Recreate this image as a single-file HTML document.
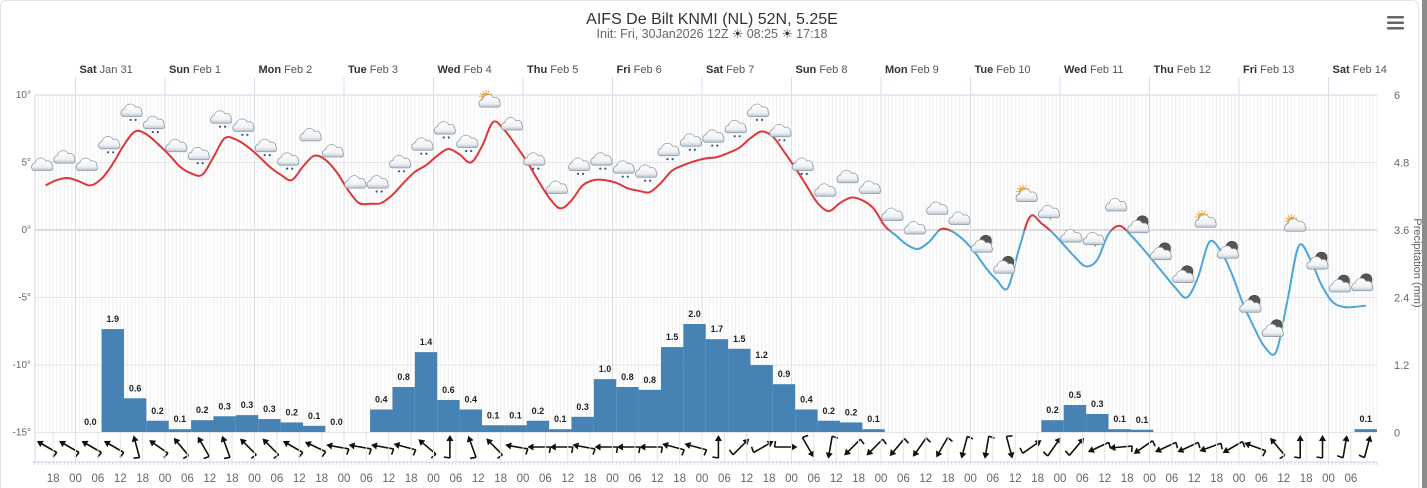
<!DOCTYPE html>
<html><head><meta charset="utf-8"><style>
html,body{margin:0;padding:0;background:#fff;}
svg{display:block;font-family:"Liberation Sans",sans-serif;}
</style></head><body>
<svg id="chart" width="1427" height="488" viewBox="0 0 1427 488" xmlns="http://www.w3.org/2000/svg">
<rect x="0.5" y="0.5" width="1418" height="492" rx="6" fill="#fff" stroke="#e3e3e3"/>
<rect x="1422" y="0" width="5" height="488" fill="#8c8c8c"/>
<text x="712" y="24" text-anchor="middle" font-size="16" fill="#333">AIFS De Bilt KNMI (NL) 52N, 5.25E</text>
<text x="712" y="38" text-anchor="middle" font-size="12.5" fill="#666">Init: Fri, 30Jan2026 12Z <tspan fill="#333">☀</tspan> 08:25 <tspan fill="#333">☀</tspan> 17:18</text>
<g fill="#666">
<rect x="1387" y="16" width="17" height="2.5" rx="1"/><rect x="1387" y="21.5" width="17" height="2.5" rx="1"/><rect x="1387" y="27" width="17" height="2.5" rx="1"/>
</g>
<g id="grid"></g>
<g id="days"></g>
<g id="yaxes"></g>
<g id="bars"></g>
<defs>
<clipPath id="above"><rect x="0" y="0" width="1427" height="230.5"/></clipPath>
<clipPath id="below"><rect x="0" y="230.5" width="1427" height="300"/></clipPath>
<linearGradient id="cg" x1="0" y1="0" x2="0" y2="1"><stop offset="0" stop-color="#ffffff"/><stop offset="0.7" stop-color="#eef1f4"/><stop offset="1" stop-color="#b9c2cc"/></linearGradient>
</defs>
<g id="temp"></g>
<g id="icons"></g>
<g id="wind"></g>
<g id="xaxis"></g>
<text transform="translate(1414,263) rotate(90)" text-anchor="middle" font-size="11" fill="#666">Precipitation (mm)</text>
</svg>
<script>
const days = [["Sat","Jan 31"],["Sun","Feb 1"],["Mon","Feb 2"],["Tue","Feb 3"],["Wed","Feb 4"],["Thu","Feb 5"],["Fri","Feb 6"],["Sat","Feb 7"],["Sun","Feb 8"],["Mon","Feb 9"],["Tue","Feb 10"],["Wed","Feb 11"],["Thu","Feb 12"],["Fri","Feb 13"],["Sat","Feb 14"]];
const tempTicks = [10,5,0,-5,-10,-15];
const precipTicks = ["6","4.8","3.6","2.4","1.2","0"];
const hourLabels = ["18","00","06","12"];
const temps = [3.3,3.7,3.85,3.6,3.3,3.8,4.9,6.3,7.3,7.1,6.4,5.6,4.7,4.2,4.1,5.4,6.8,6.7,6.2,5.5,4.7,4.1,3.7,4.7,5.5,5.2,4.3,3.0,2.0,1.95,2.0,
2.6,3.5,4.3,4.8,5.5,6.0,5.6,5.0,6.2,8.0,7.4,6.3,5.1,3.7,2.4,1.6,2.2,3.3,3.7,3.7,3.5,3.1,2.9,2.8,3.5,4.4,4.8,5.1,5.3,5.4,5.7,6.1,6.8,7.3,6.9,5.8,4.6,3.3,2.0,1.4,2.0,2.4,
2.2,1.6,0.3,-0.4,-1.1,-1.4,-0.85,0.05,-0.1,-0.7,-1.6,-2.75,-3.7,-4.3,-1.4,1.0,0.5,-0.2,-1.1,-2.0,-2.7,-2.2,-0.3,0.3,-0.4,-1.3,-2.3,-3.3,-4.3,-5.0,-3.5,-0.9,-1.5,-3.2,-5.4,-7.2,-8.7,-9.0,-5.2,-1.2,-2.1,-4.0,-5.3,-5.7,-5.7,-5.6];
const precip = [0,1.83,0.6,0.2,0.05,0.21,0.28,0.3,0.23,0.17,0.11,0,0,0.4,0.8,1.42,0.57,0.4,0.12,0.12,0.2,0.05,0.27,0.94,0.8,0.75,1.51,1.92,1.65,1.48,1.19,0.85,0.4,0.2,0.17,0.05,0,0,0,0,0,0,0,0.21,0.48,0.32,0.05,0.04,0,0,0,0,0,0,0,0,0,0.05];
const precipLabels = ["0.0","1.9","0.6","0.2","0.1","0.2","0.3","0.3","0.3","0.2","0.1","0.0",null,"0.4","0.8","1.4","0.6","0.4","0.1","0.1","0.2","0.1","0.3","1.0","0.8","0.8","1.5","2.0","1.7","1.5","1.2","0.9","0.4","0.2","0.2","0.1",null,null,null,null,null,null,null,"0.2","0.5","0.3","0.1","0.1",null,null,null,null,null,null,null,null,null,"0.1"];
const iconTypes = ["c","c","c","r","r","r","c","r","r","r","r","r","c","c","c","r","r","r","r","r","s","c","r","c","r","r","r","r","r","r","r","r","r","r","r","c","c","c","c","c","c","c","m","m","s","n","c","n","c","m","m","m","s","m","m","m","s","m","m","m"];
const windHeading = [300,300,300,300,345,305,320,330,340,315,315,300,295,280,280,
280,285,310,0,340,315,280,270,270,280,270,270,270,285,285,0,45,60,90,150,190,225,225,
220,215,210,195,190,165,55,35,40,245,265,235,245,245,250,240,290,320,0,0,10,15];

const NS="http://www.w3.org/2000/svg";
function mk(tag, attrs, parent){const e=document.createElementNS(NS,tag);for(const k in attrs)e.setAttribute(k,attrs[k]);if(parent)parent.appendChild(e);return e;}
const X0=75.5, PXH=89.5/24, PL=35, PR=1377, PT=95, PB=432;
const xS=t=>X0+t*PXH;
const yT=v=>230-v*13.5;
const yP=v=>PB-v*56.25;

const grid=document.getElementById('grid');
for(let t=-11;xS(t)<=PR;t++){const x=xS(t);if(x<PL)continue;
 const l=mk('line',{x1:x,x2:x,y1:PT,y2:PB,stroke:'#efefef','stroke-width':1},grid);
 }
tempTicks.forEach(v=>{const y=yT(v);
 const l=mk('line',{x1:PL,x2:PR,y1:y,y2:y,stroke:v===0?'#bdbdbd':'#e6e6e6','stroke-width':1},grid);
 });
mk('line',{x1:PL,x2:PR,y1:PT,y2:PT,stroke:'#ccd6eb'},grid);
mk('line',{x1:PL,x2:PL,y1:PT,y2:462,stroke:'#ccd6eb'},grid);

const dg=document.getElementById('days');
days.forEach((d,i)=>{const x=xS(24*i);
 const l=mk('line',{x1:x,x2:x,y1:77,y2:PB,stroke:'#d8dee8'},dg);
 
 const tx=mk('text',{x:x+4,y:73,'font-size':11,fill:'#555'},dg);
 
 const b=mk('tspan',{'font-weight':'bold',fill:'#333'},tx);b.textContent=d[0];
 const s=mk('tspan',{},tx);s.textContent=' '+d[1];});

const ya=document.getElementById('yaxes');
tempTicks.forEach((v,i)=>{
 const a=mk('text',{x:31,y:yT(v)+3,'text-anchor':'end','font-size':10,fill:'#666'},ya);
 a.textContent=v+'°';
 const b=mk('text',{x:1394,y:yT(v)+4,'font-size':11,fill:'#666'},ya);
 b.textContent=precipTicks[i];});

const bg=document.getElementById('bars');
precip.forEach((v,i)=>{const x1=xS(1+6*i),x2=xS(7+6*i);
 if(v>0){const r=mk('rect',{x:x1,y:yP(v),width:x2-x1,height:PB-yP(v),fill:'#4682b4'},bg);
  }
 if(precipLabels[i]!==null){const t=mk('text',{x:(x1+x2)/2,y:yP(v)-7,'text-anchor':'middle','font-size':9,'font-weight':'bold',fill:'#222'},bg);
  t.textContent=precipLabels[i];}});

const pts=temps.map((v,i)=>[xS(-8+3*i),yT(v)]);
function spline(p){let d='M'+p[0][0].toFixed(1)+','+p[0][1].toFixed(1);
 for(let i=0;i<p.length-1;i++){const p0=p[i-1]||p[i],p1=p[i],p2=p[i+1],p3=p[i+2]||p2;
  d+=' C'+(p1[0]+(p2[0]-p0[0])/6).toFixed(1)+','+(p1[1]+(p2[1]-p0[1])/6).toFixed(1)+' '+(p2[0]-(p3[0]-p1[0])/6).toFixed(1)+','+(p2[1]-(p3[1]-p1[1])/6).toFixed(1)+' '+p2[0].toFixed(1)+','+p2[1].toFixed(1);}
 return d;}
const tg=document.getElementById('temp');const dpath=spline(pts);
const red=mk('path',{d:dpath,fill:'none',stroke:'#e0363a','stroke-width':2,'clip-path':'url(#above)'},tg);

const blue=mk('path',{d:dpath,fill:'none',stroke:'#4ba6d9','stroke-width':2,'clip-path':'url(#below)'},tg);


const ig=document.getElementById('icons');
function cloud(g){mk('path',{d:`M-11,6 a5,5 0 0 1 2,-9 a7,7 0 0 1 13,-2 a5,5 0 0 1 7,5 a4,4 0 0 1 -1,6 z`,fill:'url(#cg)',stroke:'#8d99a6','stroke-width':0.9},g);}
iconTypes.forEach((ty,k)=>{const cx=xS(-8+6*k)-3,cy=yT(temps[2*k])-20;
 const g=mk('g',{transform:`translate(${cx.toFixed(1)},${cy.toFixed(1)}) scale(0.85)`},ig);
 if(ty==='s'){for(let a=0;a<360;a+=30){const r=a*Math.PI/180;mk('line',{x1:-5+Math.cos(r)*5,y1:-6+Math.sin(r)*5,x2:-5+Math.cos(r)*8,y2:-6+Math.sin(r)*8,stroke:'#f39c12','stroke-width':1},g);}
  mk('circle',{cx:-5,cy:-6,r:4.5,fill:'#f5b722',stroke:'#e67e22','stroke-width':0.6},g);}
 if(ty==='m'){mk('circle',{cx:4,cy:-7,r:7,fill:'#555',stroke:'#333','stroke-width':0.6},g);
  mk('path',{d:`M6,-14 a7,7 0 0 1 0,14 a5,7 0 0 0 0,-14z`,fill:'#e8e4d0'},g);}
 cloud(g);
 if(ty==='r'){mk('circle',{cx:-2,cy:10,r:1.3,fill:'#2a5d8a'},g);mk('circle',{cx:4,cy:10,r:1.3,fill:'#2a5d8a'},g);}
 if(ty==='n'){mk('text',{x:1,y:11,'font-size':7,fill:'#555','text-anchor':'middle'},g).textContent='*';}
});

const wg=document.getElementById('wind');
windHeading.forEach((h,k)=>{const x=xS(-7.6+6*k);
 const g=mk('g',{transform:`translate(${x.toFixed(1)},447) rotate(${h})`,stroke:'#111','stroke-width':1.6,fill:'none'},wg);
 
 mk('line',{x1:0,y1:11,x2:0,y2:-10},g);
 mk('path',{d:'M-3,-6 L0,-11 L3,-6',fill:'#111','stroke-width':1},g);
 mk('line',{x1:0,y1:11,x2:-6,y2:10},g);});

const xa=document.getElementById('xaxis');
mk('line',{x1:PL-3,x2:PR,y1:462,y2:462,stroke:'#ccd6eb'},xa);
for(let t=-11;xS(t)<=PR;t++){const x=xS(t);if(x<PL-3)continue;mk('line',{x1:x,x2:x,y1:462,y2:465,stroke:'#ccd6eb'},xa);}
for(let t=-6,i=0;xS(t)<PR-10;t+=6,i++){const x=xS(t);
 mk('line',{x1:x,x2:x,y1:PB,y2:462,stroke:'#e3e3e3'},xa);
 const tx=mk('text',{x:x,y:482,'text-anchor':'middle','font-size':11.5,fill:'#666'},xa);
 tx.textContent=hourLabels[i%4];}
</script>
</body></html>
